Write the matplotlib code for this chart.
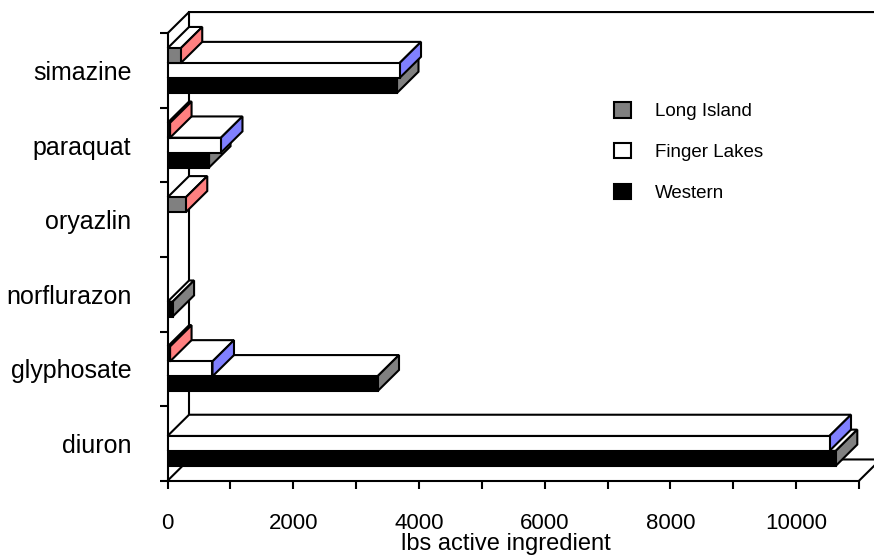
import numpy as np
import matplotlib.pyplot as plt
from matplotlib.patches import Polygon, Patch

plt.rcParams['font.family'] = ['Liberation Sans', 'DejaVu Sans']

# pesticide use by region, lbs active ingredient
categories = ['diuron', 'glyphosate', 'norflurazon', 'oryazlin', 'paraquat', 'simazine']
long_island = [0, 40, 0, 290, 40, 210]
finger_lakes = [10530, 715, 0, 0, 850, 3690]
western = [10630, 3340, 80, 0, 660, 3650]

series_names = ['Long Island', 'Finger Lakes', 'Western']
front_colors = ['#808080', 'white', 'black']
end_colors = ['#ff8080', '#8080ff', '#808080']

XMAX = 11000
DX, DY = 342, 0.285   # depth of the fake 3-d box, in data units
BAR_H = 0.2
n = len(categories)

fig = plt.figure(figsize=(8.74, 5.56), dpi=100)
ax = fig.add_axes([0.1917, 0.1354, 0.7912, 0.8047])
ax.set_xlim(0, XMAX)
ax.set_ylim(0, n)

# side wall, back wall and floor outlines
wall = dict(color='black', lw=1.5, clip_on=False, zorder=1, solid_joinstyle='miter')
ax.plot([0, DX, XMAX + DX, XMAX + DX, DX, 0], [n, n + DY, n + DY, DY, DY, 0], **wall)
ax.plot([DX, DX], [DY, n + DY], **wall)
ax.plot([XMAX, XMAX + DX], [0, DY], **wall)


def bar3d(y0, v, front, end, z):
    y1 = y0 + BAR_H
    kw = dict(ec='black', lw=1.5, clip_on=False, zorder=z, joinstyle='miter')
    ax.add_patch(Polygon([(0, y1), (v, y1), (v + DX, y1 + DY), (DX, y1 + DY)], fc='white', **kw))
    ax.add_patch(Polygon([(v, y0), (v, y1), (v + DX, y1 + DY), (v + DX, y0 + DY)], fc=end, **kw))
    ax.barh(y0, v, height=BAR_H, align='edge', color=front, edgecolor='black',
            lw=1.5, zorder=z + 0.5)


# paint from the bottom up so upper bars hide the tops of lower ones
z = 2
for i in range(n):
    vals = [long_island[i], finger_lakes[i], western[i]]
    base = i + 0.5 - 1.5 * BAR_H
    for s in [2, 1, 0]:
        if vals[s] > 0:
            bar3d(base + (2 - s) * BAR_H, vals[s], front_colors[s], end_colors[s], z)
        z += 1

ax.spines[['top', 'right']].set_visible(False)
ax.spines[['left', 'bottom']].set_linewidth(1.5)
ax.set_xticks(range(0, 10001, 2000))
ax.set_xticks(range(1000, 11001, 2000), minor=True)
ax.set_yticks(range(n + 1))
ax.set_yticklabels([])
ax.set_yticks(np.arange(n) + 0.5, categories, minor=True)
ax.tick_params(which='both', direction='out', length=6, width=1.5, labelsize=16)
ax.tick_params(axis='x', which='major', pad=17)
ax.tick_params(axis='y', which='minor', length=0, pad=26, labelsize=18)
ax.set_xlabel('lbs active ingredient', fontsize=17)
ax.xaxis.set_label_coords(0.4895, -0.116)

handles = [Patch(fc=c, ec='black', lw=1.5) for c in front_colors]
fig.legend(handles, series_names, loc='upper left', bbox_to_anchor=(614 / 874, 1 - 102 / 556),
           frameon=False, fontsize=13.5, borderpad=0, borderaxespad=0,
           handlelength=0.9, handleheight=0.9, handletextpad=1.3, labelspacing=1.2)

fig.savefig('out.png', dpi=100)
